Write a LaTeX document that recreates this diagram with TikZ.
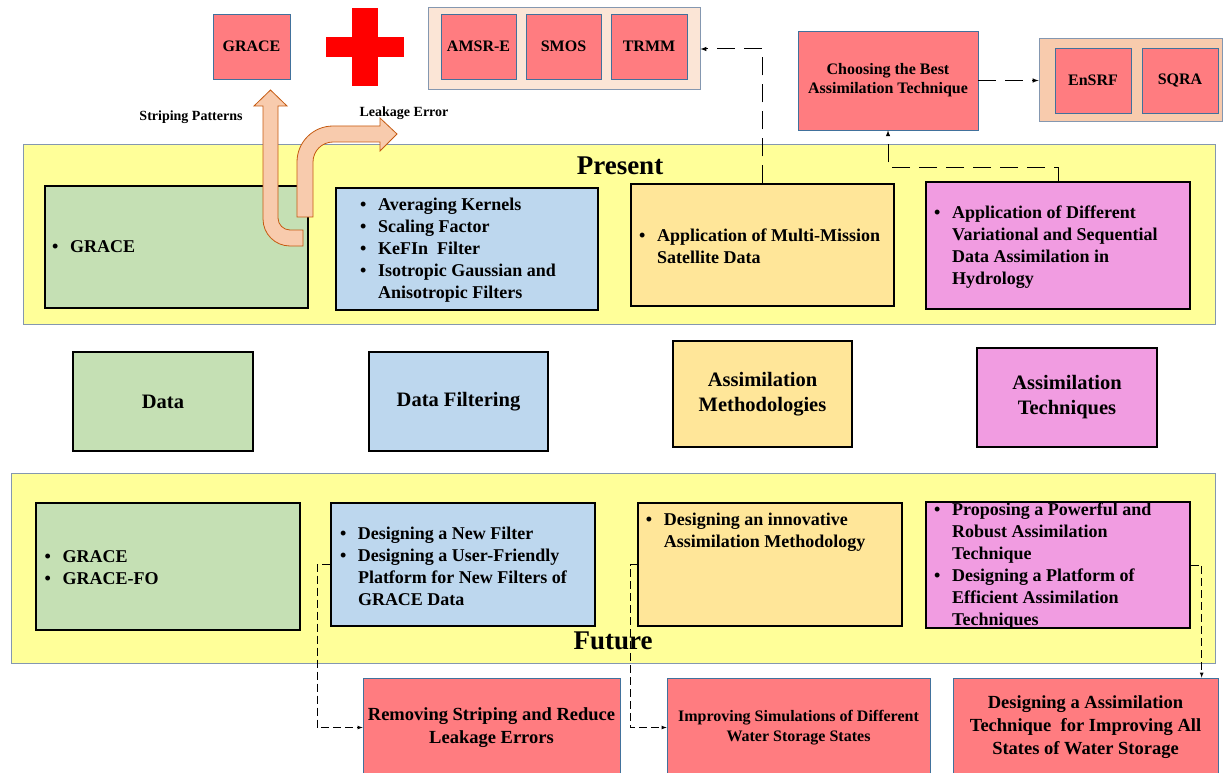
\documentclass[tikz,border=0pt]{standalone}
\usepackage{fontspec}
\setmainfont{Liberation Serif}
\usepackage{tikz}

\definecolor{redfill}{HTML}{FF7C80}
\definecolor{bluedge}{HTML}{41719C}
\definecolor{framegray}{HTML}{8497B0}
\definecolor{peachlight}{HTML}{FBE5D6}
\definecolor{peach}{HTML}{F8CBAD}
\definecolor{bandyellow}{HTML}{FFFF99}
\definecolor{datagreen}{HTML}{C5E0B4}
\definecolor{filtblue}{HTML}{BDD7EE}
\definecolor{methorange}{HTML}{FFE699}
\definecolor{techpink}{HTML}{F19CE1}
\definecolor{arrowedge}{HTML}{C55A11}

\newcommand{\bul}{\makebox[18pt][l]{\textbullet}}
\newcommand{\bulind}{\hspace*{18pt}}

\begin{document}
\begin{tikzpicture}[x=1pt,y=-1pt,
  redbox/.style={draw=bluedge, line width=0.8pt, fill=redfill, inner sep=0pt, align=center, font=\bfseries\fontsize{16}{19}\selectfont},
  satframe/.style={draw=framegray, line width=1pt, inner sep=0pt},
  band/.style={draw=framegray, line width=1pt, fill=bandyellow, inner sep=0pt},
  catbox/.style={draw=black, line width=1.3pt, inner sep=0pt},
  listtext/.style={anchor=west, inner sep=0pt, align=left, font=\bfseries\fontsize{18}{22}\selectfont},
  midtext/.style={align=center, font=\bfseries\fontsize{20.5}{25}\selectfont},
  bandtitle/.style={inner sep=0pt, font=\bfseries\fontsize{27}{30}\selectfont},
  arrowlabel/.style={inner sep=0pt, font=\bfseries\fontsize{14}{16}\selectfont},
  bigarrow/.style={draw=arrowedge, line width=0.8pt, fill=peach},
  longdash/.style={-latex, line width=1pt, dash pattern=on 18pt off 9pt},
  shortdash/.style={-latex, line width=0.7pt, dash pattern=on 8pt off 4pt}]
  \useasboundingbox (0,0) rectangle (1224,773);
  \clip (0,0) rectangle (1224,773);

  \node [redbox, minimum width=77pt, minimum height=65pt] (grace) at (251.5,46.5) {GRACE};
  \fill [red] (326,37) rectangle (404,57);
  \fill [red] (352,8) rectangle (378,86);
  \node [satframe, fill=peachlight, minimum width=272pt, minimum height=82pt] (sat) at (564,49) {};
  \node [redbox, minimum width=75pt, minimum height=65pt] (amsr) at (478.5,46.5) {AMSR-E};
  \node [redbox, minimum width=75pt, minimum height=65pt] (smos) at (563.5,46.5) {SMOS};
  \node [redbox, minimum width=76pt, minimum height=65pt] (trmm) at (649,46.5) {TRMM};
  \node [redbox, minimum width=180pt, minimum height=99pt] (best) at (888,80.5) {Choosing the Best\\Assimilation Technique};
  \node [satframe, fill=peach, minimum width=183pt, minimum height=83pt] (tech) at (1130.5,80.5) {};
  \node [redbox, minimum width=76pt, minimum height=65pt] (ensrf) at (1093,80.5) {EnSRF};
  \node [redbox, minimum width=76pt, minimum height=65pt] (sqra) at (1180,80.5) {SQRA};
  \node [arrowlabel] (striping) at (191,117) {Striping Patterns};
  \node [arrowlabel] (leakage) at (404,113) {Leakage Error};

  \node [band, minimum width=1192pt, minimum height=179pt] (present) at (619,234.5) {};
  \node [bandtitle] (presentlbl) at (620,166) {Present};
  \node [catbox, fill=datagreen, minimum width=263pt, minimum height=122pt] (pdata) at (176.5,247) {};
  \node [listtext] (pdatatxt) at (52,247) {\bul GRACE};
  \node [catbox, fill=filtblue, minimum width=262pt, minimum height=122pt] (pfilt) at (467,249) {};
  \node [listtext] (pfilttxt) at (360,250.5) {\bul Averaging Kernels\\\bul Scaling Factor\\\bul KeFIn\ \ Filter\\\bul Isotropic Gaussian and\\\bulind Anisotropic Filters};
  \node [catbox, fill=methorange, minimum width=263pt, minimum height=122pt] (pmeth) at (762.5,245) {};
  \node [listtext] (pmethtxt) at (639,246.5) {\bul Application of Multi-Mission\\\bulind Satellite Data};
  \node [catbox, fill=techpink, minimum width=264pt, minimum height=127pt] (ptech) at (1058,245.5) {};
  \node [listtext] (ptechtxt) at (934,247.4) {\bul Application of Different\\\bulind Variational and Sequential\\\bulind Data Assimilation in\\\bulind Hydrology};

  \draw [bigarrow] (303,246) -- (290,246) arc [start angle=90, end angle=180, radius=27] -- (263,106) -- (254,106) -- (270.5,90) -- (287,106) -- (278,106) -- (278,218) arc [start angle=180, end angle=90, radius=12] -- (303,230) -- cycle;
  \draw [bigarrow] (297,217) -- (297,162) arc [start angle=180, end angle=270, radius=36] -- (380,126) -- (380,118) -- (397,134) -- (380,151) -- (380,142) -- (333,142) arc [start angle=270, end angle=180, radius=20] -- (313,217) -- cycle;

  \node [catbox, fill=datagreen, minimum width=180pt, minimum height=99pt, midtext] (mdata) at (163,401.5) {Data};
  \node [catbox, fill=filtblue, minimum width=179pt, minimum height=99pt, midtext] (mfilt) at (458.5,401.5) {Data Filtering};
  \node [catbox, fill=methorange, minimum width=179pt, minimum height=106pt, midtext] (mmeth) at (762.5,394) {Assimilation\\Methodologies};
  \node [catbox, fill=techpink, minimum width=180pt, minimum height=99pt, midtext] (mtech) at (1067,397.5) {Assimilation\\Techniques};

  \node [band, minimum width=1204pt, minimum height=190pt] (future) at (613,568) {};
  \node [bandtitle] (futurelbl) at (613,641) {Future};
  \node [catbox, fill=datagreen, minimum width=264pt, minimum height=127pt] (fdata) at (168,566.5) {};
  \node [listtext] (fdatatxt) at (44.5,568) {\bul GRACE\\\bul GRACE-FO};
  \node [catbox, fill=filtblue, minimum width=264pt, minimum height=123pt] (ffilt) at (463,564.5) {};
  \node [listtext] (ffilttxt) at (339.8,566.5) {\bul Designing a New Filter\\\bul Designing a User-Friendly\\\bulind Platform for New Filters of\\\bulind GRACE Data};
  \node [catbox, fill=methorange, minimum width=264pt, minimum height=123pt] (fmeth) at (770,564.5) {};
  \node [listtext] (fmethtxt) at (645.7,532) {\bul Designing an innovative\\\bulind Assimilation Methodology};
  \node [catbox, fill=techpink, minimum width=264pt, minimum height=126pt] (ftech) at (1058,565) {};
  \node [listtext] (ftechtxt) at (934,566.5) {\bul Proposing a Powerful and\\\bulind Robust Assimilation\\\bulind Technique\\\bul Designing a Platform of\\\bulind Efficient Assimilation\\\bulind Techniques};

  \node [redbox, minimum width=257pt, minimum height=98pt, font=\bfseries\fontsize{18.5}{23}\selectfont] (bstrip) at (491.5,727.5) {Removing Striping and Reduce\\Leakage Errors};
  \node [redbox, minimum width=263pt, minimum height=98pt, font=\bfseries\fontsize{16}{20}\selectfont] (bsim) at (798.5,727.5) {Improving Simulations of Different\\Water Storage States};
  \node [redbox, minimum width=265pt, minimum height=98pt, font=\bfseries\fontsize{18.5}{23}\selectfont] (bstate) at (1085.5,727) {Designing a Assimilation\\Technique\ \ for Improving All\\States of Water Storage};

  \draw [longdash] (pmeth.north) |- (sat.east);
  \draw [longdash] (ptech.north) -- ++(0,-14) -| (best.south);
  \draw [longdash] (best.east) -- (tech.west);
  \draw [shortdash] (ffilt.west) -- ++(-13,0) |- (bstrip.west);
  \draw [shortdash] (fmeth.west) -- ++(-7.5,0) |- (bsim.west);
  \draw [shortdash] (ftech.east) -- ++(11,0) coordinate (ftechdrop) -- (ftechdrop |- bstate.north);
\end{tikzpicture}
\end{document}
